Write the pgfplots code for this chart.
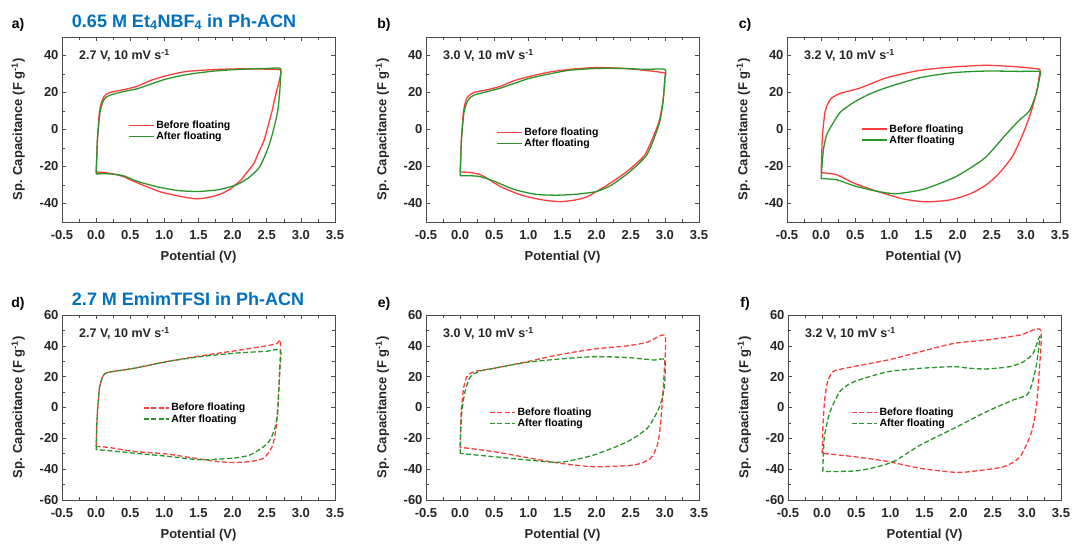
\documentclass[border=0pt]{standalone}
\usepackage{pgfplots}
\pgfplotsset{compat=1.18}
\usepackage{fontspec}
\setmainfont{Liberation Sans}
\definecolor{cvred}{RGB}{255,60,60}
\definecolor{cvgreen}{RGB}{40,150,40}
\definecolor{ttl}{RGB}{0,112,192}
\pgfplotsset{
  cvbase/.style={
    scale only axis, width=273pt, height=185pt, anchor=south west,
    xmin=-0.5, xmax=3.5, xtick={-0.5,0,0.5,1,1.5,2,2.5,3,3.5},
    minor x tick num=1, minor y tick num=1,
    tick align=inside, major tick length=4pt, minor tick length=3pt,
    axis line style={line width=0.9pt, black!70},
    tick style={black!70, line width=0.6pt},
    /pgf/number format/assume math mode=true,
    x tick label style={/pgf/number format/.cd, fixed, fixed zerofill, precision=1, /tikz/.cd, yshift=-5pt},
    tick label style={font=\fontsize{13}{13}\selectfont\bfseries, text=black!85},
    xlabel={Potential (V)}, ylabel={Sp. Capacitance (F g\textsuperscript{-1})},
    label style={font=\fontsize{13}{13}\selectfont\bfseries, text=black!85},
    xlabel style={at={(axis description cs:0.5,-0.19)}, anchor=center},
    ylabel style={at={(axis description cs:-0.16,0.5)}, anchor=center},
    legend style={draw=none, fill=none, font=\fontsize{10.5}{12}\selectfont\bfseries, anchor=north west, row sep=-2pt},
    legend cell align=left,
    legend image code/.code={\draw[##1, line width=1.3pt] (0pt,0pt) -- (25pt,0pt);},
  },
  toprow/.style={cvbase, ymin=-50, ymax=50, ytick={-40,-20,0,20,40}},
  botrow/.style={cvbase, ymin=-60, ymax=60, ytick={-60,-40,-20,0,20,40,60}},
  redsolid/.style={color=cvred, line width=1.3pt, smooth, tension=0.4, line join=round},
  greensolid/.style={color=cvgreen, line width=1.3pt, smooth, tension=0.4, line join=round},
  reddash/.style={color=cvred, line width=1.3pt, smooth, tension=0.4, dash pattern=on 5pt off 2.5pt},
  greendash/.style={color=cvgreen, line width=1.3pt, smooth, tension=0.4, dash pattern=on 5pt off 2.5pt},
}
\newcommand{\annot}[1]{\node[anchor=west, font=\fontsize{12.5}{12.5}\selectfont\bfseries, text=black!85] at (rel axis cs:0.05,0.9) {#1};}
\begin{document}
\begin{tikzpicture}
\useasboundingbox (0,0) rectangle (1074pt,544pt);
% ---------- a ----------
\begin{axis}[toprow, at={(62pt,322pt)}, legend style={at={(0.23,0.57)}}]
\addplot[redsolid] coordinates {(0,-23)(0.01,-14)(0.02,-5)(0.05,10)(0.11,17.5)(0.2,20)(0.4,21.5)(0.6,23.3)(0.8,26.5)(1.04,29.2)(1.33,31.4)(1.73,32.4)(2.12,32.8)(2.5,32.6)(2.7,32.2)(2.7,29)(2.66,23)(2.62,17)(2.58,10.3)(2.52,2)(2.46,-5.9)(2.38,-12.5)(2.31,-18.4)(2.2,-23.6)(2.12,-27.4)(1.97,-32)(1.85,-34.5)(1.73,-36)(1.6,-37)(1.48,-37.5)(1.33,-36.8)(1.15,-35.5)(0.94,-33.7)(0.75,-31)(0.55,-28)(0.4,-25.5)(0.25,-24)(0.1,-23.2)(0,-23)};
\addlegendentry{Before floating}
\addplot[greensolid] coordinates {(0,-24)(0.01,-15)(0.02,-5)(0.06,10)(0.12,16.5)(0.2,18.5)(0.4,20.5)(0.6,22)(0.8,24.5)(1.0,27)(1.3,29.5)(1.7,31.5)(2.1,32.5)(2.5,33)(2.7,33)(2.7,28)(2.69,20)(2.66,10)(2.6,0)(2.52,-10)(2.4,-20)(2.3,-24)(2.2,-27)(2.05,-30)(1.8,-32.5)(1.5,-33.5)(1.2,-33)(0.9,-31)(0.6,-28)(0.4,-25)(0.2,-24)(0,-24)};
\addlegendentry{After floating}
\annot{2.7 V, 10 mV s\textsuperscript{-1}}
\end{axis}
% ---------- b ----------
\begin{axis}[toprow, at={(426pt,322pt)}, legend style={at={(0.245,0.53)}}]
\addplot[redsolid] coordinates {(0,-23)(0.01,-14)(0.02,-5)(0.05,10)(0.1,17)(0.2,20)(0.4,21.5)(0.6,23.5)(0.8,26.5)(1.0,28.5)(1.3,31)(1.6,32.5)(2.0,33.5)(2.4,33)(2.7,32)(3.0,30.5)(3.0,28)(2.99,22)(2.97,15)(2.92,5)(2.84,-3)(2.7,-14)(2.45,-22.5)(2.2,-29)(2.0,-33.5)(1.85,-36.5)(1.7,-38)(1.47,-39)(1.2,-38)(0.9,-35.5)(0.6,-31)(0.4,-26.5)(0.3,-24.5)(0.15,-23.2)(0,-23)};
\addlegendentry{Before floating}
\addplot[greensolid] coordinates {(0,-25)(0.01,-15)(0.02,-5)(0.06,10)(0.12,16)(0.2,18.5)(0.4,20.5)(0.6,22.5)(0.8,25)(1.0,27.5)(1.3,30)(1.6,32)(2.0,33)(2.4,33)(2.7,32.5)(3.0,32.5)(3.0,28)(2.99,22)(2.97,14)(2.93,5)(2.86,-3)(2.73,-14)(2.48,-23)(2.22,-30)(2.0,-33.5)(1.7,-35)(1.4,-35.5)(1.1,-35)(0.8,-32.5)(0.5,-28)(0.3,-25.5)(0.15,-25)(0,-25)};
\addlegendentry{After floating}
\annot{3.0 V, 10 mV s\textsuperscript{-1}}
\end{axis}
% ---------- c ----------
\begin{axis}[toprow, at={(787pt,322pt)}, legend style={at={(0.26,0.55)}}]
\addplot[redsolid] coordinates {(0,-23.3)(0.01,-12)(0.02,-3)(0.06,10)(0.14,16.5)(0.28,19.5)(0.57,22.4)(0.96,28)(1.45,32)(1.93,33.8)(2.42,34.7)(2.9,33.8)(3.2,32.5)(3.2,30)(3.17,22.7)(3.12,15)(3.05,6.7)(2.95,-3)(2.8,-14.7)(2.6,-24)(2.42,-29.9)(2.2,-34.5)(1.9,-38)(1.54,-39.1)(1.2,-37.5)(0.82,-33.4)(0.48,-29)(0.23,-24.5)(0,-23.3)};
\addlegendentry{Before floating}
\addplot[greensolid] coordinates {(0,-26.5)(0.02,-16)(0.04,-9.4)(0.08,-3)(0.14,1.3)(0.28,9.3)(0.48,14.7)(0.7,19)(0.96,22.7)(1.45,28)(1.93,30.7)(2.42,31.6)(2.9,31.4)(3.2,31.3)(3.2,28)(3.15,19.2)(3.05,10)(2.9,4.9)(2.7,-3)(2.42,-14.7)(2.2,-20.5)(1.93,-26.3)(1.5,-32.3)(1.1,-34.7)(0.82,-33.4)(0.48,-30.4)(0.23,-27.2)(0,-26.5)};
\addlegendentry{After floating}
\annot{3.2 V, 10 mV s\textsuperscript{-1}}
\end{axis}
% ---------- d ----------
\begin{axis}[botrow, at={(62pt,44pt)}, legend style={at={(0.285,0.545)}}]
\addplot[reddash] coordinates {(0,-25)(0.01,-12)(0.02,-2.4)(0.05,12.8)(0.09,19.3)(0.16,22.6)(0.55,25.4)(1.04,29.8)(1.53,33.5)(2.02,36.7)(2.5,40)(2.65,41.5)(2.7,43.3)(2.69,23.7)(2.66,-2.4)(2.63,-15.4)(2.58,-25.2)(2.46,-32.8)(2.26,-35)(2.02,-35.7)(1.77,-35)(1.53,-33.5)(1.04,-30.2)(0.55,-28.5)(0.2,-26)(0,-25.2)};
\addlegendentry{Before floating}
\addplot[greendash] coordinates {(0,-27.4)(0.01,-12)(0.02,-2.4)(0.05,12.8)(0.09,19.3)(0.16,22.6)(0.55,25.4)(1.04,29.8)(1.53,33)(2.02,35.2)(2.5,36.5)(2.7,37.2)(2.69,23.7)(2.66,-2.4)(2.62,-13.3)(2.55,-20.9)(2.46,-25.2)(2.26,-30.7)(2.02,-32.8)(1.53,-33.9)(1.04,-31.6)(0.55,-29.6)(0.2,-28)(0,-27.4)};
\addlegendentry{After floating}
\annot{2.7 V, 10 mV s\textsuperscript{-1}}
\end{axis}
% ---------- e ----------
\begin{axis}[botrow, at={(426pt,44pt)}, legend style={at={(0.22,0.52)}}]
\addplot[reddash] coordinates {(0,-26)(0.01,-12)(0.015,-3)(0.05,12.4)(0.1,20)(0.2,23.2)(0.49,25.4)(0.98,29.7)(1.47,34.4)(1.96,37.9)(2.45,40)(2.74,42.3)(3.0,46.6)(2.99,23.2)(2.94,-9.2)(2.89,-24.3)(2.79,-33)(2.55,-37.3)(1.96,-38.4)(1.47,-36.2)(0.98,-32.5)(0.49,-28.6)(0,-25.8)};
\addlegendentry{Before floating}
\addplot[greendash] coordinates {(0,-30)(0.01,-14)(0.025,-3)(0.07,10)(0.15,20)(0.29,23.6)(0.49,25.4)(0.98,29.3)(1.47,31.5)(1.96,33)(2.45,32.4)(2.84,30.8)(3.0,30.8)(2.995,14.6)(2.96,5.9)(2.89,-2.7)(2.74,-13.5)(2.45,-22.2)(1.96,-30.8)(1.47,-35.5)(0.98,-34)(0.49,-31.9)(0,-29.8)};
\addlegendentry{After floating}
\annot{3.0 V, 10 mV s\textsuperscript{-1}}
\end{axis}
% ---------- f ----------
\begin{axis}[botrow, at={(788pt,44pt)}, legend style={at={(0.22,0.52)}}]
\addplot[reddash] coordinates {(0,-29.7)(0.015,-9)(0.04,6)(0.08,16.8)(0.16,23.2)(0.33,25.4)(0.96,30.8)(1.44,36.2)(1.93,41.6)(2.41,43.8)(2.9,47)(3.2,50.3)(3.18,23)(3.14,1.6)(3.07,-15.7)(2.9,-31.9)(2.66,-38.4)(2.17,-41.6)(1.93,-42)(1.44,-39.5)(0.96,-35)(0.47,-31.9)(0,-29.7)};
\addlegendentry{Before floating}
\addplot[greendash] coordinates {(0.01,-41.6)(0.03,-20)(0.1,-4.9)(0.18,3.8)(0.28,11.4)(0.47,16.8)(0.96,23.2)(1.44,25.4)(1.93,26.5)(2.17,25.4)(2.41,25)(2.75,26.5)(2.95,29.7)(3.09,35)(3.19,46)(3.14,27.6)(3.07,14.6)(3.0,8.1)(2.8,4.9)(2.41,-2.7)(1.93,-13.5)(1.44,-24.3)(1.05,-35)(0.71,-39.5)(0.47,-41.2)(0.01,-41.6)};
\addlegendentry{After floating}
\annot{3.2 V, 10 mV s\textsuperscript{-1}}
\end{axis}
% ---------- titles and panel letters ----------
\node[font=\fontsize{18}{18}\selectfont\bfseries, text=ttl] at (184pt,522pt) {0.65 M Et\textsubscript{4}NBF\textsubscript{4} in Ph-ACN};
\node[font=\fontsize{18}{18}\selectfont\bfseries, text=ttl] at (188pt,245pt) {2.7 M EmimTFSI in Ph-ACN};
\foreach \lab/\x/\y in {a/18/519, b/384/519, c/745/519, d/18/240, e/384/240, f/745/240}
  \node[font=\fontsize{14}{14}\selectfont\bfseries] at (\x pt,\y pt) {\lab)};
\end{tikzpicture}
\end{document}
